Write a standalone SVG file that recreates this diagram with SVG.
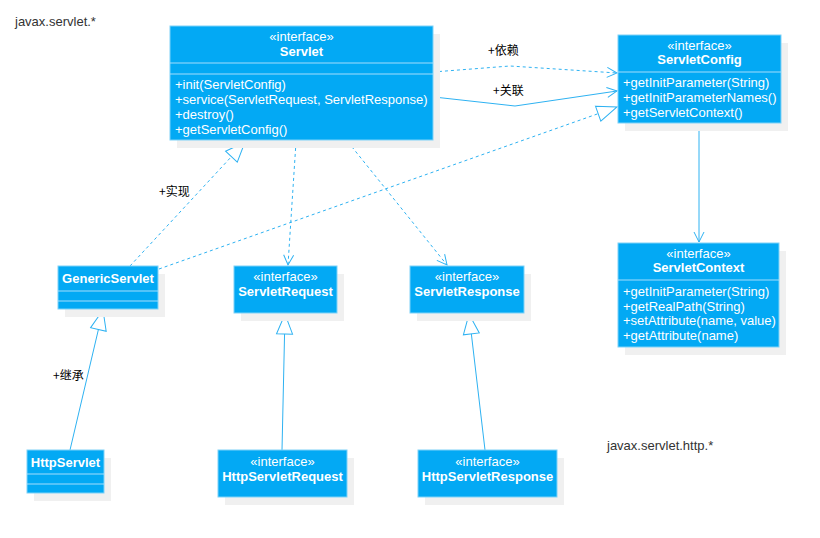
<svg xmlns="http://www.w3.org/2000/svg" width="820" height="538" viewBox="0 0 820 538">
<style>
.sh{fill:#f0f0f0}
.bx{fill:#03a9f4;stroke:#7fd2f8;stroke-width:1}
.dv{stroke:#a3defb;stroke-width:1.2}
.t{font-family:"Liberation Sans",Arial,sans-serif;font-size:13px;fill:#ffffff}
.c{text-anchor:middle}
.b{font-weight:bold}
.pk{font-family:"Liberation Sans",Arial,sans-serif;font-size:13px;fill:#333333}
.lb{font-family:"Noto Sans CJK SC",sans-serif;font-size:12px;fill:#000000}
.ln{fill:none;stroke:#2eb2f2;stroke-width:1}
.da{stroke-dasharray:3,3}
.mk{fill:none;stroke:#2eb2f2;stroke-width:1;stroke-dasharray:none}
.mt{fill:#ffffff;stroke:#2eb2f2;stroke-width:1;stroke-dasharray:none}
</style>
<defs>
<marker id="open" viewBox="-12 -7 14 14" refX="0" refY="0" markerWidth="14" markerHeight="14" markerUnits="userSpaceOnUse" orient="auto">
<path class="mk" d="M-10,-5 L0,0 L-10,5"/>
</marker>
<marker id="tri" viewBox="-22 -10 24 20" refX="0" refY="0" markerWidth="24" markerHeight="20" markerUnits="userSpaceOnUse" orient="auto">
<path class="mt" d="M-20,-8 L0,0 L-20,8 Z"/>
</marker>
</defs>
<rect width="820" height="538" fill="#ffffff"/>
<text class="pk" x="15" y="26">javax.servlet.*</text>
<text class="pk" x="607" y="450">javax.servlet.http.*</text>

<g id="connectors">
<path class="ln da" d="M433,72 L510,66 L617,73" marker-end="url(#open)"/>
<path class="ln" d="M434,97 L515,106 L617,91" marker-end="url(#open)"/>
<path class="ln" d="M699,123 L699,242" marker-end="url(#open)"/>
<path class="ln da" d="M296,142 L288,265" marker-end="url(#open)"/>
<path class="ln da" d="M348,142 L447,265" marker-end="url(#open)"/>
<path class="ln da" d="M130,266 L245,142" marker-end="url(#tri)"/>
<path class="ln da" d="M159,269 L617,107" marker-end="url(#tri)"/>
<path class="ln" d="M70,450 L103,310" marker-end="url(#tri)"/>
<path class="ln" d="M282,450 L285,314" marker-end="url(#tri)"/>
<path class="ln" d="M485,450 L469,314" marker-end="url(#tri)"/>
<text class="lb" x="488" y="55">+依赖</text>
<text class="lb" x="493" y="95">+关联</text>
<text class="lb" x="159" y="196">+实现</text>
<text class="lb" x="53" y="380">+继承</text>
</g>

<g id="Servlet">
<rect class="sh" x="177" y="34" width="263" height="114"/>
<rect class="bx" x="170" y="26" width="263" height="114"/>
<line class="dv" x1="170" y1="63" x2="433" y2="63"/>
<line class="dv" x1="170" y1="74" x2="433" y2="74"/>
<text class="t c" x="301.5" y="41">«interface»</text>
<text class="t c b" x="301.5" y="55.5">Servlet</text>
<text class="t" x="175" y="88.5">+init(ServletConfig)</text>
<text class="t" x="175" y="103.5">+service(ServletRequest, ServletResponse)</text>
<text class="t" x="175" y="118.5">+destroy()</text>
<text class="t" x="175" y="133.5">+getServletConfig()</text>
</g>

<g id="ServletConfig">
<rect class="sh" x="625" y="43" width="163" height="88"/>
<rect class="bx" x="618" y="35" width="163" height="88"/>
<line class="dv" x1="618" y1="72" x2="781" y2="72"/>
<text class="t c" x="699.5" y="49.5">«interface»</text>
<text class="t c b" x="699.5" y="64">ServletConfig</text>
<text class="t" x="623" y="87">+getInitParameter(String)</text>
<text class="t" x="623" y="102">+getInitParameterNames()</text>
<text class="t" x="623" y="117">+getServletContext()</text>
</g>

<g id="ServletContext">
<rect class="sh" x="625" y="251" width="161" height="104"/>
<rect class="bx" x="618" y="243" width="161" height="104"/>
<line class="dv" x1="618" y1="280" x2="779" y2="280"/>
<text class="t c" x="698.5" y="257.5">«interface»</text>
<text class="t c b" x="698.5" y="271.5">ServletContext</text>
<text class="t" x="623" y="296">+getInitParameter(String)</text>
<text class="t" x="623" y="310.5">+getRealPath(String)</text>
<text class="t" x="623" y="325">+setAttribute(name, value)</text>
<text class="t" x="623" y="340">+getAttribute(name)</text>
</g>

<g id="GenericServlet">
<rect class="sh" x="65" y="274" width="100" height="43"/>
<rect class="bx" x="58" y="266" width="100" height="43"/>
<line class="dv" x1="58" y1="291" x2="158" y2="291"/>
<line class="dv" x1="58" y1="301" x2="158" y2="301"/>
<text class="t c b" x="108" y="283">GenericServlet</text>
</g>

<g id="ServletRequest">
<rect class="sh" x="241" y="274" width="103" height="47"/>
<rect class="bx" x="234" y="266" width="103" height="47"/>
<text class="t c" x="285.5" y="281">«interface»</text>
<text class="t c b" x="285.5" y="296">ServletRequest</text>
</g>

<g id="ServletResponse">
<rect class="sh" x="417" y="274" width="114" height="47"/>
<rect class="bx" x="410" y="266" width="114" height="47"/>
<text class="t c" x="467" y="281">«interface»</text>
<text class="t c b" x="467" y="296">ServletResponse</text>
</g>

<g id="HttpServlet">
<rect class="sh" x="34" y="458" width="77" height="43"/>
<rect class="bx" x="27" y="450" width="77" height="43"/>
<line class="dv" x1="27" y1="474" x2="104" y2="474"/>
<line class="dv" x1="27" y1="484" x2="104" y2="484"/>
<text class="t c b" x="65.5" y="466.5">HttpServlet</text>
</g>

<g id="HttpServletRequest">
<rect class="sh" x="225" y="458" width="129" height="47"/>
<rect class="bx" x="218" y="450" width="129" height="47"/>
<text class="t c" x="282.5" y="466">«interface»</text>
<text class="t c b" x="282.5" y="480.5">HttpServletRequest</text>
</g>

<g id="HttpServletResponse">
<rect class="sh" x="425" y="458" width="139" height="47"/>
<rect class="bx" x="418" y="450" width="139" height="47"/>
<text class="t c" x="487.5" y="466">«interface»</text>
<text class="t c b" x="487.5" y="480.5">HttpServletResponse</text>
</g>
</svg>
